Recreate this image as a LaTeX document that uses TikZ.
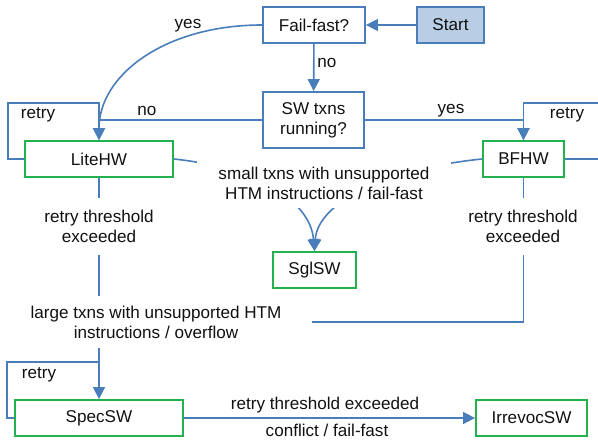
\documentclass[tikz,border=0pt]{standalone}
\usepackage{fontspec}
\setmainfont{Liberation Sans}
\usetikzlibrary{arrows.meta}
\definecolor{lineblue}{HTML}{4A7EBB}
\definecolor{boxgreen}{HTML}{22B14C}
\definecolor{startfill}{HTML}{B9CDE5}
\definecolor{txt}{HTML}{111111}
\begin{document}
\begin{tikzpicture}[x=1pt,y=-1pt,
  every node/.style={font=\fontsize{17.1}{20}\selectfont, text=txt},
  state/.style={draw=boxgreen, line width=1.8pt, minimum height=36pt, inner sep=0pt},
  decision/.style={draw=lineblue, line width=1.8pt, minimum height=36pt, inner sep=0pt},
  conn/.style={draw=lineblue, line width=1.6pt},
  arr/.style={conn, -{Triangle[length=12pt,width=12pt]}},
  lbl/.style={fill=white, align=center, inner sep=0pt}]
\useasboundingbox (0,0) rectangle (598,441);
% boxes
\node[decision, minimum width=102pt] (ff) at (314,25) {Fail-fast?};
\node[decision, fill=startfill, minimum width=67pt] (start) at (450.5,25) {Start};
\node[decision, minimum width=101pt, minimum height=56pt, align=center] (sw) at (313.5,120) {SW txns\\running?};
\node[state, minimum width=148pt] (lite) at (99,159) {LiteHW};
\node[state, minimum width=81pt] (bf) at (523.5,159) {BFHW};
\node[state, minimum width=83pt] (sgl) at (314.5,270) {SglSW};
\node[state, minimum width=168pt] (spec) at (99,418) {SpecSW};
\node[state, minimum width=111pt] (irr) at (531.5,418) {IrrevocSW};
% helper coordinates
\coordinate (l1) at (8,103);
\coordinate (r1) at (600,103);
\coordinate (r2) at (600,159);
\coordinate (m) at (99,322);
\coordinate (s1) at (7,362);
\coordinate (s2) at (99,362);
% connectors
\draw[arr] (start) -- (ff);
\draw[arr] (ff) -- (sw);
\draw[arr] (ff.west) .. controls (165,25) and (99,75) .. (lite.north);
\draw[conn] (sw.west) -- (sw.west -| lite.north);
\draw[arr] (lite.west) -| (l1) -| (lite.north);
\draw[arr] (sw.east) -| (bf.north);
\draw[conn] (bf.east) -- (r2);
\draw[arr] (r1) -| (bf.north);
\draw[arr] (lite.east) .. controls (250,167) and (310,198) .. (sgl.north);
\draw[arr] (bf.west) .. controls (400,167) and (318,198) .. (sgl.north);
\draw[arr] (lite.south) -- (spec.north);
\draw[conn] (bf.south) |- (m);
\draw[conn] (spec.west) -| (s1) -- (s2);
\draw[arr] (spec) -- (irr);
% plain labels
\node (lyes) at (188,26) {yes};
\node (lno) at (147,111) {no};
\node (fno) at (327,63) {no};
\node (ryes) at (451,111) {yes};
\node (lretry) at (38,115) {retry};
\node (rretry) at (567,115) {retry};
\node (sretry) at (39,375) {retry};
\node (thr) at (325,405) {retry threshold exceeded};
\node (conf) at (327,430) {conflict / fail-fast};
% labels covering connectors
\node[lbl, inner xsep=21pt, inner ysep=9pt] (small) at (324,183) {small txns with unsupported\\HTM instructions / fail-fast};
\node[lbl, inner xsep=6pt, inner ysep=12pt] (rtl) at (99,226.5) {retry threshold\\exceeded};
\node[lbl, inner xsep=6pt, inner ysep=12pt] (rtr) at (523,226.5) {retry threshold\\exceeded};
\node[lbl, inner xsep=31pt, inner ysep=10pt] (large) at (156,322) {large txns with unsupported HTM\\instructions / overflow};
\end{tikzpicture}
\end{document}
